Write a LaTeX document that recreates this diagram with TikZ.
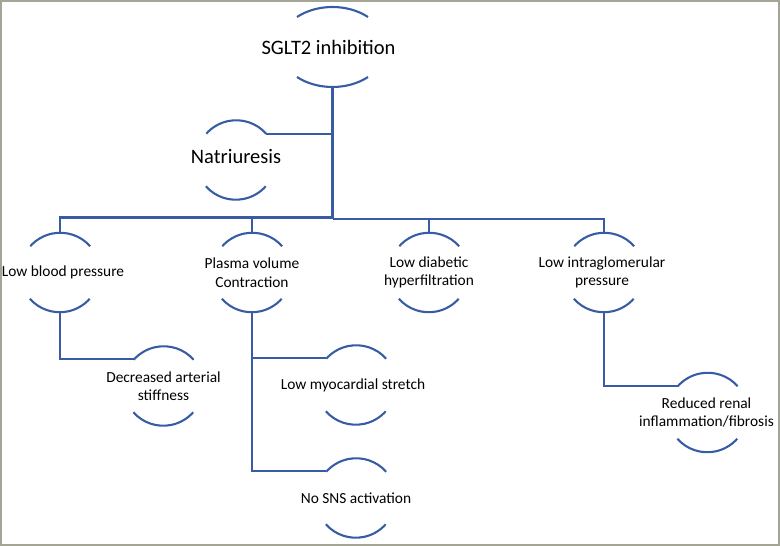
\documentclass[tikz,border=0pt]{standalone}
\usepackage{fontspec}
\setmainfont{Carlito}
\usetikzlibrary{shapes.geometric}
\definecolor{lnblue}{RGB}{55,92,165}
\definecolor{framegray}{RGB}{165,165,150}
\begin{document}
\begin{tikzpicture}[x=1pt,y=1pt,
  ln/.style={draw=lnblue,line width=2.1pt},
  ring/.style={circle,minimum size=80pt,inner sep=0pt,outer sep=0pt},
  bigring/.style={ellipse,minimum width=107.4pt,minimum height=80pt,inner sep=0pt,outer sep=0pt},
  sm/.style={font=\fontsize{15.4}{18.5}\selectfont,align=center,inner sep=0pt,text=black},
  big/.style={font=\fontsize{20.5}{24}\selectfont,align=center,inner sep=0pt,text=black}]
\useasboundingbox (0,0) rectangle (780,546);
\draw[framegray,line width=1.5pt] (1,1) rectangle (779,545);

% nodes
\node[bigring,label={[big,xshift=-4pt]center:SGLT2 inhibition}] (sg) at (332.5,499) {};
\node[ring,label={[big,yshift=3pt]center:Natriuresis}] (na) at (236,386) {};
\node[ring,label={[sm,xshift=3pt]center:Low blood pressure}] (lbp) at (60,273.5) {};
\node[ring,label={[sm]center:Plasma volume\\Contraction}] (pvc) at (252,273.5) {};
\node[ring,label={[sm]center:Low diabetic\\hyperfiltration}] (ldh) at (429,273.5) {};
\node[ring,label={[sm,xshift=-2pt]center:Low intraglomerular\\pressure}] (lip) at (604,273.5) {};
\node[ring,label={[sm]center:Decreased arterial\\stiffness}] (das) at (163.5,160) {};
\node[ring,label={[sm,xshift=-3pt]center:Low myocardial stretch}] (lms) at (356,161) {};
\node[ring,label={[sm]center:No SNS activation}] (nsns) at (356,48) {};
\node[ring,label={[sm,xshift=-1pt]center:Reduced renal\\inflammation/fibrosis}] (rrif) at (707.5,133.5) {};

% arcs
\draw[ln] ([shift={(35.5,30)}]sg.center) arc[start angle=48.6,end angle=131.4,x radius=53.7pt,y radius=40pt];
\draw[ln] ([shift={(-35.5,-30)}]sg.center) arc[start angle=228.6,end angle=311.4,x radius=53.7pt,y radius=40pt];
\foreach \n in {na,lbp,pvc,ldh,lip,das,lms,nsns,rrif}{
  \draw[ln] (\n.41.5) arc[start angle=41.5,end angle=138.5,radius=40pt];
  \draw[ln] (\n.221.5) arc[start angle=221.5,end angle=318.5,radius=40pt];
}

% connectors
\coordinate (jR) at (332.5,327);
\coordinate (jL) at (332.5,328.5);
\draw[ln] (sg.south) -- (jR);
\draw[ln] (na.41.5) -- (na.41.5 -| sg.south);
\draw[ln] (jR) -| (ldh.north);
\draw[ln] (jR) -| (lip.north);
\draw[ln] (jL) -| (pvc.north);
\draw[ln] (jL) -| (lbp.north);
\draw[ln] (lbp.south) |- (das.138.5);
\draw[ln] (pvc.south) |- (lms.138.5);
\draw[ln] (pvc.south) |- (nsns.138.5);
\draw[ln] (lip.south) |- (rrif.138.5);
\end{tikzpicture}
\end{document}
